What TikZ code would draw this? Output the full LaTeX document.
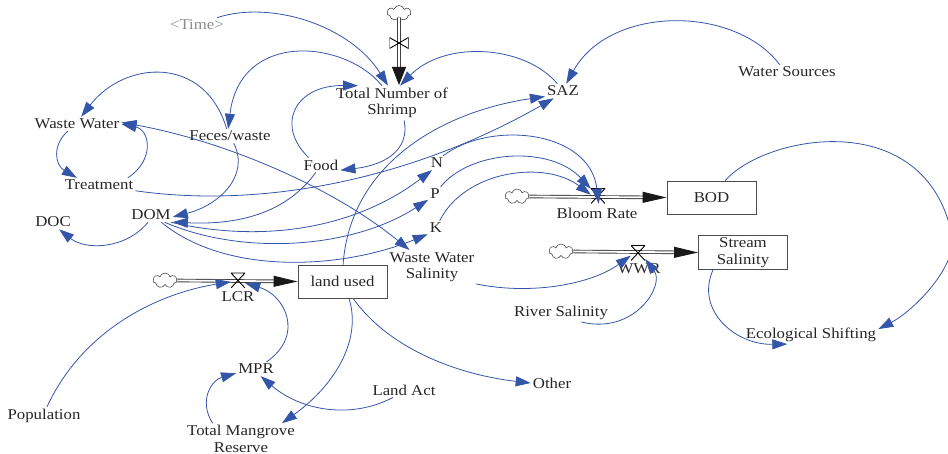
\documentclass[tikz,border=0pt]{standalone}
\usepackage{fontspec}
\setmainfont[FakeStretch=1.12]{Liberation Serif}
\usetikzlibrary{arrows.meta,shapes.symbols}

\definecolor{linkblue}{RGB}{52,86,168}

\tikzset{
    lbl/.style={inner sep=2pt, yshift=-1pt, align=center, text=black!85, font=\fontsize{15}{16.5}\selectfont},
    stock/.style={lbl, yshift=0pt, draw=black!70, line width=0.9pt, minimum width=89pt, minimum height=33pt},
    link/.style={linkblue, line width=0.8pt, -{Triangle[length=15pt,width=10pt]}},
    pipe/.style={double=white, draw=black!75, line width=0.9pt, double distance=1.8pt, -{Triangle[length=24pt,width=11pt,black!90]}},
    puff/.style={cloud, cloud puffs=7, draw=black!80, line width=0.5pt, inner sep=0pt, minimum width=24pt, minimum height=15pt},
    valve/.style={inner sep=0pt, minimum width=14pt, minimum height=15pt, path picture={
        \draw[line width=0.9pt] (path picture bounding box.north west) -- (path picture bounding box.north east) -- (path picture bounding box.south west)
            (path picture bounding box.north west) -- (path picture bounding box.south east);}},
    valveside/.style={inner sep=0pt, minimum width=19pt, minimum height=11pt, path picture={
        \draw[line width=0.9pt] (path picture bounding box.north west) -- (path picture bounding box.south east) -- (path picture bounding box.north east) -- (path picture bounding box.south west) -- cycle;}},
}

\begin{document}
\begin{tikzpicture}[x=1pt, y=-1pt]
    \useasboundingbox (0,0) rectangle (948,454);

    \node[lbl, text=black!45] (Time) at (197,24) {<Time>};
    \node[lbl] (Shrimp) at (392,102) {Total Number of\\Shrimp};
    \node[lbl] (SAZ) at (563,90) {SAZ};
    \node[lbl] (Sources) at (787,71) {Water Sources};
    \node[lbl] (WasteWater) at (77,123) {Waste Water};
    \node[lbl] (Feces) at (230,135) {Feces/waste};
    \node[lbl] (Food) at (321,164) {Food};
    \node[lbl] (Treatment) at (99,184) {Treatment};
    \node[lbl] (N) at (437,162) {N};
    \node[lbl] (P) at (435,193) {P};
    \node[lbl] (K) at (436,227) {K};
    \node[lbl] (DOC) at (53,221) {DOC};
    \node[lbl] (DOM) at (151,214) {DOM};
    \node[lbl] (Bloom) at (597,212) {Bloom Rate};
    \node[lbl] (WWSalinity) at (432,266) {Waste Water\\Salinity};
    \node[lbl] (WWR) at (639,268) {WWR};
    \node[lbl] (River) at (561,312) {River Salinity};
    \node[lbl] (Shifting) at (811,334) {Ecological Shifting};
    \node[lbl] (Other) at (552,382) {Other};
    \node[lbl] (LCR) at (238,296) {LCR};
    \node[lbl] (MPR) at (256,368) {MPR};
    \node[lbl] (LandAct) at (404,389) {Land Act};
    \node[lbl] (Population) at (44,415) {Population};
    \node[lbl] (Mangrove) at (241,438) {Total Mangrove\\Reserve};

    \node[stock] (BOD) at (711.5,196.5) {BOD};
    \node[stock] (Stream) at (743,251.5) {Stream\\Salinity};
    \node[stock] (Land) at (342.5,280.5) {land used};

    \node[puff] (CloudTop) at (399,13) {};
    \node[puff] (CloudBloom) at (517,196.5) {};
    \node[puff] (CloudWWR) at (561,251.5) {};
    \node[puff] (CloudLCR) at (165,280.5) {};
    \coordinate (ShrimpIn) at (399,85);

    \draw[pipe, -{Triangle[length=18pt,width=14pt,black!90]}] (CloudTop.south) -- (ShrimpIn);
    \draw[pipe] (CloudBloom.east) -- (BOD.west);
    \draw[pipe] (CloudWWR.east) -- (Stream.west);
    \draw[pipe] (CloudLCR.east) -- (Land.west);

    \node[valveside] (ValveTop) at (399,43) {};
    \node[valve] (ValveBloom) at (598,196) {};
    \node[valve] (ValveWWR) at (638,253) {};
    \node[valve] (ValveLCR) at (238,280.5) {};

    \draw[link] (Time.20) .. controls (270,0) and (350,25) .. (Shrimp.103);
    \draw[link] (SAZ.128) .. controls (525,45) and (445,40) .. (Shrimp.65);
    \draw[link] (Sources.135) .. controls (735,5) and (610,5) .. (SAZ.66);
    \draw[link] (Shrimp.120) .. controls (345,40) and (240,30) .. (Feces.104);
    \draw[link] (Feces.115) .. controls (205,55) and (125,60) .. (WasteWater.60);
    \draw[link] (Food.149) .. controls (275,125) and (295,85) .. (Shrimp.153);
    \draw[link] (Shrimp.305) .. controls (410,150) and (385,165) .. (Food.345);
    \draw[link] (WasteWater.218) .. controls (52,145) and (55,165) .. (Treatment.162);
    \draw[link] (Treatment.14) .. controls (155,160) and (150,130) .. (WasteWater.0);
    \draw[link, {Triangle[length=15pt,width=10pt]}-{Triangle[length=15pt,width=10pt]}] (WasteWater.2) .. controls (220,140) and (330,185) .. (WWSalinity.143);
    \draw[link] (Treatment.351) .. controls (270,210) and (420,175) .. (SAZ.218);
    \draw[link] (Land.88) .. controls (350,165) and (440,112) .. (SAZ.197);

    \draw[link] (N.50) .. controls (490,120) and (590,130) .. (ValveBloom.275);
    \draw[link] (P.52) .. controls (470,150) and (550,145) .. (ValveBloom.135);
    \draw[link] (K.63) .. controls (465,170) and (545,160) .. (ValveBloom.170);
    \draw[link] (DOM.340) .. controls (270,245) and (360,225) .. (N.235);
    \draw[link] (DOM.332) .. controls (240,255) and (350,250) .. (P.220);
    \draw[link] (DOM.325) .. controls (225,275) and (340,270) .. (K.217);
    \draw[link] (Food.235) .. controls (285,215) and (235,225) .. (DOM.342);
    \draw[link] (Feces.297) .. controls (250,175) and (220,205) .. (DOM.355);
    \draw[link] (DOM.248) .. controls (125,250) and (85,250) .. (DOC.310);

    \draw[link] (WWSalinity.339) .. controls (530,295) and (590,285) .. (ValveWWR.200);
    \draw[link] (River.336) .. controls (635,335) and (665,285) .. (ValveWWR.320);
    \draw[link] (Stream.210) .. controls (695,310) and (735,345) .. (Shifting.201);
    \draw[link] (BOD.51) .. controls (765,135) and (925,105) .. (952,235) .. controls (958,265) and (915,310) .. (Shifting.5);
    \draw[link] (Land.291) .. controls (362,340) and (335,385) .. (Mangrove.21);
    \draw[link] (Land.302) .. controls (390,350) and (460,375) .. (Other.180);
    \draw[link] (LandAct.214) .. controls (350,420) and (300,410) .. (MPR.303);
    \draw[link] (Mangrove.151) .. controls (198,400) and (212,380) .. (MPR.192);
    \draw[link] (MPR.34) .. controls (305,335) and (285,295) .. (ValveLCR.340);
    \draw[link] (Population.72) .. controls (80,335) and (150,295) .. (ValveLCR.190);
\end{tikzpicture}
\end{document}
